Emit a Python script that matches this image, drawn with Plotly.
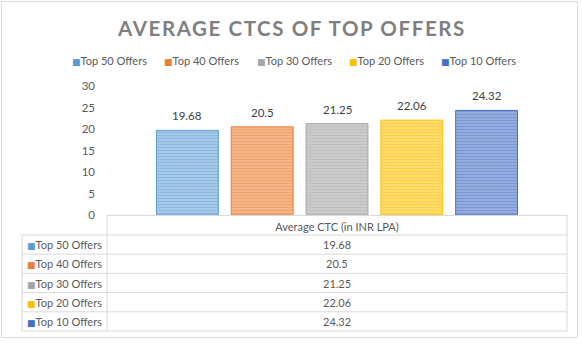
import plotly.graph_objects as go

# ---------------- data ----------------
series_names = ["Top 50 Offers", "Top 40 Offers", "Top 30 Offers", "Top 20 Offers", "Top 10 Offers"]
series_values = [19.68, 20.5, 21.25, 22.06, 24.32]
category = "Average CTC (in INR LPA)"
y_tick_values = [0, 5, 10, 15, 20, 25, 30]
title_text = "AVERAGE CTCS OF TOP OFFERS"

# ---------------- styles ----------------
colors = ["#5b9bd5", "#ed7d31", "#a5a5a5", "#ffc000", "#4472c4"]
light_colors = ["#bcd6ef", "#f7c6a6", "#d8d8d8", "#ffe38f", "#aebfe6"]
TXT = "#595959"
GRID = "#d9d9d9"
FONT = "Lato, 'Open Sans', sans-serif"
FS = 11

W, H = 582, 353
PL, PR, PT, PB = 107, 567, 86, 215  # plot area in px
BARGAP = 0.187
GROUPGAP = 0.173


def px(x):
    return (x - PL) / (PR - PL)


def py(y):
    return (PB - y) / (PB - PT)


fig = go.Figure()
for name, v, c, lc in zip(series_names, series_values, colors, light_colors):
    fig.add_trace(go.Bar(
        name=name, x=[category], y=[v],
        marker=dict(color=c, line=dict(color=c, width=1),
                    pattern=dict(shape="-", fgcolor=c, bgcolor=lc, size=3, solidity=0.65)),
        showlegend=False, hoverinfo="skip",
    ))

annotations = []
shapes = []

# data labels above bars
n = len(series_values)
slot = (PR - PL) * (1 - BARGAP) / n
for i, v in enumerate(series_values):
    annotations.append(dict(
        x=category, y=v, xref="x", yref="y", text=str(v), showarrow=False,
        xshift=(i - (n - 1) / 2) * slot, yshift=6, yanchor="bottom",
        font=dict(family=FONT, size=FS + 0.5, color="#404040"),
    ))

# title
annotations.append(dict(
    x=px(291), y=py(27.5), xref="paper", yref="paper", showarrow=False,
    xanchor="center", yanchor="middle",
    text="<b><span style='letter-spacing:1.6px'>%s</span></b>" % title_text,
    font=dict(family=FONT, size=20.5, color="#7f7f7f"),
))

# legend (top)
LEG_X0, LEG_STEP, LEG_Y = 70, 92.3, 60
for i, (name, c) in enumerate(zip(series_names, colors)):
    annotations.append(dict(
        x=px(LEG_X0 + i * LEG_STEP), y=py(LEG_Y), xref="paper", yref="paper",
        showarrow=False, xanchor="left", yanchor="middle",
        text="<span style='color:%s;font-size:9px;font-family:DejaVu Sans'>■</span>%s" % (c, name),
        font=dict(family=FONT, size=FS, color=TXT),
    ))

# data table
TL, TR = 22, PR
ROW_TOP, ROW_H = 235, 19.2
row_lines = [ROW_TOP + k * ROW_H for k in range(n + 1)]
for yl in row_lines:
    shapes.append(dict(type="line", xref="paper", yref="paper",
                       x0=px(TL), x1=px(TR), y0=py(yl), y1=py(yl),
                       line=dict(color=GRID, width=1)))
shapes.append(dict(type="line", xref="paper", yref="paper", x0=px(TL), x1=px(TL),
                   y0=py(row_lines[0]), y1=py(row_lines[-1]), line=dict(color=GRID, width=1)))
for xv in (PL, TR):
    shapes.append(dict(type="line", xref="paper", yref="paper", x0=px(xv), x1=px(xv),
                       y0=py(PB), y1=py(row_lines[-1]), line=dict(color=GRID, width=1)))
for i, (name, v, c) in enumerate(zip(series_names, series_values, colors)):
    yc = ROW_TOP + (i + 0.5) * ROW_H
    annotations.append(dict(
        x=px(TL + 3), y=py(yc), xref="paper", yref="paper", showarrow=False,
        xanchor="left", yanchor="middle",
        text="<span style='color:%s;font-size:9px;font-family:DejaVu Sans'>■</span>%s" % (c, name),
        font=dict(family=FONT, size=FS, color=TXT),
    ))
    annotations.append(dict(
        x=0.5, y=py(yc), xref="paper", yref="paper", showarrow=False,
        xanchor="center", yanchor="middle", text=str(v),
        font=dict(family=FONT, size=FS, color=TXT),
    ))

# outer chart border
shapes.append(dict(type="rect", xref="paper", yref="paper",
                   x0=px(1.5), x1=px(577.5), y0=py(337.5), y1=py(1.5),
                   line=dict(color=GRID, width=1)))

fig.update_layout(
    width=W, height=H,
    margin=dict(l=PL, r=W - PR, t=PT, b=H - PB, pad=0),
    paper_bgcolor="white", plot_bgcolor="white",
    barmode="group", bargap=BARGAP, bargroupgap=GROUPGAP,
    showlegend=False,
    font=dict(family=FONT, size=FS, color=TXT),
    xaxis=dict(showline=True, linecolor=GRID, linewidth=1, ticks="",
               showgrid=False, zeroline=False, ticklabelstandoff=2,
               tickfont=dict(family=FONT, size=FS, color=TXT), fixedrange=True),
    yaxis=dict(range=[0, 30], tickvals=y_tick_values, showgrid=False, zeroline=False,
               showline=False, ticks="", ticklabelstandoff=11,
               tickfont=dict(family=FONT, size=FS + 0.5, color=TXT), fixedrange=True),
    annotations=annotations, shapes=shapes,
)

fig.write_html("out.html", config={"displayModeBar": False})
